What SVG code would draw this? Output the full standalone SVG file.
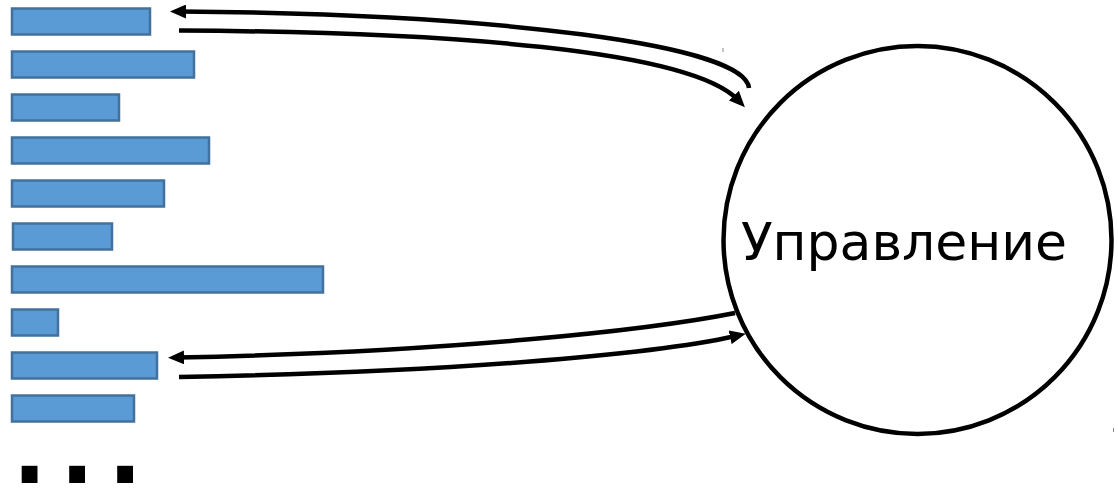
<svg xmlns="http://www.w3.org/2000/svg" width="1118" height="488" viewBox="0 0 1118 488">
<defs>
<style>
.bar{fill:#5b9bd5;stroke:#41719c;stroke-width:2.5}
.conn{fill:none;stroke:#000;stroke-width:4.5}
.lbl{font-family:"DejaVu Sans",sans-serif;font-size:52px;fill:#000}
.dots{font-family:"DejaVu Sans",sans-serif;font-weight:bold;font-size:90px;fill:#000}
.tick{stroke:#888;stroke-width:1}
</style>
<marker id="ah" markerUnits="userSpaceOnUse" markerWidth="16" markerHeight="14" refX="6" refY="7" orient="auto">
<path d="M0,0 L16,7 L0,14 Z" fill="#000"/>
</marker>
</defs>
<rect width="1118" height="488" fill="#fff"/>
<g id="bars">
<rect id="bar1" class="bar" x="12" y="8.5" width="138" height="26"/>
<rect id="bar2" class="bar" x="12" y="51.5" width="182" height="26"/>
<rect id="bar3" class="bar" x="12" y="94.5" width="107" height="26"/>
<rect id="bar4" class="bar" x="12" y="137.5" width="197" height="26"/>
<rect id="bar5" class="bar" x="12" y="180.5" width="152" height="26"/>
<rect id="bar6" class="bar" x="13" y="223.5" width="99" height="26"/>
<rect id="bar7" class="bar" x="12" y="266.5" width="311" height="26"/>
<rect id="bar8" class="bar" x="12" y="309.5" width="46" height="26"/>
<rect id="bar9" class="bar" x="12" y="352.5" width="145" height="26"/>
<rect id="bar10" class="bar" x="12" y="395.5" width="122" height="26"/>
</g>
<g id="ellipsis">
<text class="dots" x="12.5 60 108" y="483">...</text>
</g>
<g id="control">
<circle cx="917.5" cy="240" r="194" fill="#fff" stroke="#000" stroke-width="4.5"/>
<text class="lbl" x="904" y="260" text-anchor="middle">Управление</text>
</g>
<g id="connectors">
<path class="conn" d="M749,88 C745,45 500,14 180,11.5" marker-end="url(#ah)"/>
<path class="conn" d="M179,30.5 C450,32 690,50 738,100" marker-end="url(#ah)"/>
<path class="conn" d="M735,313 C650,330 450,352 178,357.5" marker-end="url(#ah)"/>
<path class="conn" d="M179,377 C450,372 650,355 736,336" marker-end="url(#ah)"/>
</g>
<g id="ticks">
<line class="tick" x1="723" y1="48" x2="723" y2="52"/>
<line class="tick" x1="1113.5" y1="428" x2="1113.5" y2="432"/>
</g>
</svg>
